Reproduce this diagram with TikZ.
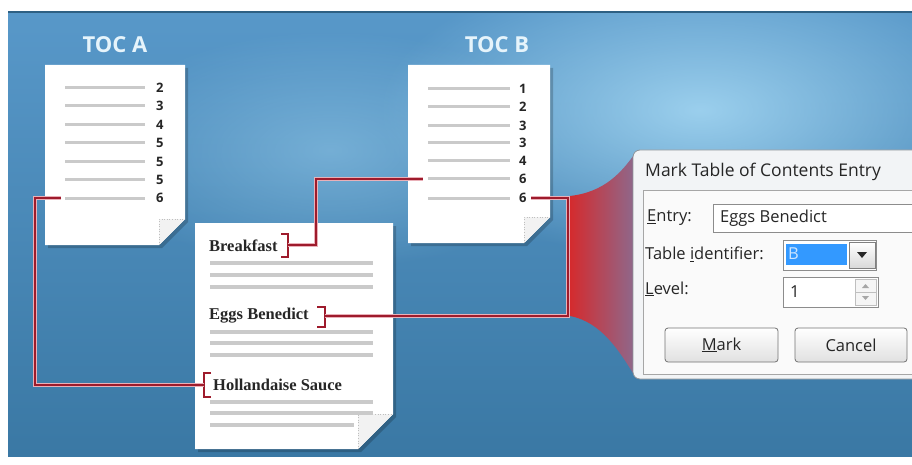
\documentclass[tikz,border=0pt]{standalone}
\usepackage{fontspec}
\setmainfont{Open Sans}
\newfontfamily\docserif{Liberation Serif}
\usetikzlibrary{fadings}
\tikzfading[name=softspot, inner color=transparent!0, outer color=transparent!100]
\definecolor{bgT}{HTML}{5898C9}
\definecolor{bgB}{HTML}{3A78A4}
\definecolor{bgL}{HTML}{A3D6F2}
\definecolor{tocw}{HTML}{E6F4FB}
\definecolor{rulec}{HTML}{CACACA}
\definecolor{cred}{HTML}{9E1B2C}
\definecolor{chalo}{HTML}{E9B0B8}
\definecolor{fred}{HTML}{D42B2E}
\definecolor{fmauve}{HTML}{8C6A8E}
\definecolor{dlgbg}{HTML}{F2F4F6}
\definecolor{dlgbd}{HTML}{8E9499}
\definecolor{selblue}{HTML}{3399FF}
\newcommand\docsheet[5]{%
  \fill[pageshadow] ({#1+3},{#2+3}) -- ({#3+3},{#2+3}) -- ({#3+3},{#4-#5+3}) -- ({#3-#5+3},{#4+3}) -- ({#1+3},{#4+3}) -- cycle;
  \fill[white] (#1,#2) -- (#3,#2) -- (#3,{#4-#5}) -- ({#3-#5},#4) -- (#1,#4) -- cycle;
  \fill[black!5] ({#3-#5},{#4-#5}) -- (#3,{#4-#5}) -- ({#3-#5},#4) -- cycle;
  \draw[black!25, line width=.6pt, dotted] ({#3-#5},#4) -- ({#3-#5},{#4-#5}) -- (#3,{#4-#5});
}
\tikzset{
  pageshadow/.style={fill=black, opacity=.2},
  tline/.style={draw=rulec, line width=3pt},
  dline/.style={draw=rulec, line width=3.2pt},
  tocnum/.style={font=\bfseries\fontsize{13}{13}\selectfont, text=black!85, inner sep=0pt, anchor=west},
  toctitle/.style={font=\bfseries\fontsize{22}{22}\selectfont, text=tocw, inner sep=0pt},
  doctext/.style={font=\docserif\bfseries\fontsize{16.5}{16.5}\selectfont, text=black!85, inner sep=0pt, anchor=west},
  conn/.style={draw=cred, line width=2.2pt, preaction={draw=chalo, line width=4.4pt}},
  brk/.style={draw=cred, line width=2.2pt},
  dlgtext/.style={font=\fontsize{16.5}{16.5}\selectfont, text=black!85, inner sep=0pt, anchor=west},
  field/.style={draw=black!45, fill=white, line width=.8pt},
  btn/.style={draw=black!55, rounded corners=3pt, line width=.8pt, top color=white, bottom color=black!12},
}
\begin{document}
\begin{tikzpicture}[x=1pt,y=-1pt]
\useasboundingbox (0,0) rectangle (912,465);
\begin{scope}
\clip (0,0) rectangle (912,465);
\fill[white] (0,0) rectangle (912,465);
% background
\begin{scope}
\clip (8,12) rectangle (912,456);
\shade[top color=bgT, bottom color=bgB] (8,12) rectangle (912,456);
\fill[bgL, path fading=softspot, opacity=.9] (700,110) ellipse [x radius=320, y radius=150];
\fill[bgL, path fading=softspot, opacity=.45] (330,150) ellipse [x radius=240, y radius=120];
\draw[bgB!80!black, line width=1.5pt] (8,12) -- (912,12);
\end{scope}

% titles
\node[toctitle] (tocA) at (115,45) {TOC A};
\node[toctitle] (tocB) at (497,45) {TOC B};

% TOC A page
\docsheet{45}{65}{185}{245}{26}
\foreach \yy/\nn [count=\i] in {88/2,106/3,125/4,143/5,162/5,180/5,198/6}{
  \draw[tline] (65,\yy) -- (145,\yy);
  \node[tocnum] (na\i) at (156,\yy) {\nn};
}
% TOC B page
\docsheet{408}{65}{550}{243}{26}
\foreach \yy/\nn [count=\i] in {89/1,107/2,126/3,143/3,161/4,179/6,198/6}{
  \draw[tline] (428,\yy) -- (510,\yy);
  \node[tocnum] (nb\i) at (519,\yy) {\nn};
}

% document page
\docsheet{195}{223}{393}{449}{35}
\node[doctext] (tBreak) at (209,246) {Breakfast};
\node[doctext] (tEggs) at (209,316) {Eggs Benedict};
\node[doctext] (tHoll) at (213,385) {Hollandaise Sauce};
\foreach \yy in {263,275,287,332,343,355,402,413}{
  \draw[dline] (210,\yy) -- (373,\yy);
}
\draw[dline] (210,425) -- (354,425);

% funnel
\shade[left color=fred, right color=fmauve] (570,196) .. controls (605,192) and (622,172) .. (636,152) -- (636,378) .. controls (620,352) and (602,322) .. (570,316) -- cycle;

% dialog
\draw[fill=dlgbg, draw=dlgbd, rounded corners=7pt, line width=.8pt] (633,150) rectangle (940,379);
\node[dlgtext, font=\fontsize{17.5}{17.5}\selectfont] (dtitle) at (645,172) {Mark Table of Contents Entry};
\draw[fill=black!2, draw=black!35, line width=.8pt] (643,190) rectangle (940,374);
\node[dlgtext] (lentry) at (647,218) {\underline{E}ntry:};
\draw[field] (713,204) rectangle (940,232);
\node[dlgtext] (ventry) at (720,218) {Eggs Benedict};
\node[dlgtext] (lident) at (645,254) {Table \underline{i}dentifier:};
\draw[field] (783,240) rectangle (876,270);
\fill[selblue] (786,244) rectangle (847,265);
\node[dlgtext, text=white!75!selblue] (vident) at (788,254) {B};
\draw[draw=black!50, top color=white, bottom color=black!15] (849,242) rectangle (875,268);
\fill[black!85] (857,252) -- (867,252) -- (862,258) -- cycle;
\node[dlgtext] (llevel) at (645,289) {\underline{L}evel:};
\draw[field] (783,277) rectangle (878,307);
\node[dlgtext] (vlevel) at (790,292) {1};
\draw[draw=black!25, fill=black!4] (855,279) rectangle (876,305);
\draw[black!25] (855,292) -- (876,292);
\fill[black!35] (862,288) -- (869,288) -- (865.5,284) -- cycle;
\fill[black!35] (862,296) -- (869,296) -- (865.5,300) -- cycle;
\draw[btn] (665,328) rectangle (778,362);
\node[dlgtext, anchor=center] (bmark) at (721.5,345) {\underline{M}ark};
\draw[btn] (795,328) rectangle (907,362);
\node[dlgtext, anchor=center] (bcancel) at (851,345) {Cancel};

% brackets
\draw[brk] (281,234) -- (288,234) -- (288,257) -- (281,257);
\coordinate (bbr) at (288,245);
\draw[brk] (317,307) -- (325,307) -- (325,327) -- (317,327);
\coordinate (ebr) at (325,316);
\draw[brk] (211,373) -- (204,373) -- (204,397) -- (211,397);
\coordinate (hbr) at (204,385);

% connector end points
\coordinate (a7L) at (61,198);
\coordinate (acorner) at (35,385);
\coordinate (b6L) at (423,179);
\coordinate (bcorner) at (316,245);
\coordinate (b7R) at (531,198);
\coordinate (ecorner) at (568,316);

\draw[conn] (a7L) -| (acorner) -- (hbr);
\draw[conn] (bbr) -- (bcorner) |- (b6L);
\draw[conn] (ebr) -- (ecorner) |- (b7R);
\end{scope}
\end{tikzpicture}
\end{document}
